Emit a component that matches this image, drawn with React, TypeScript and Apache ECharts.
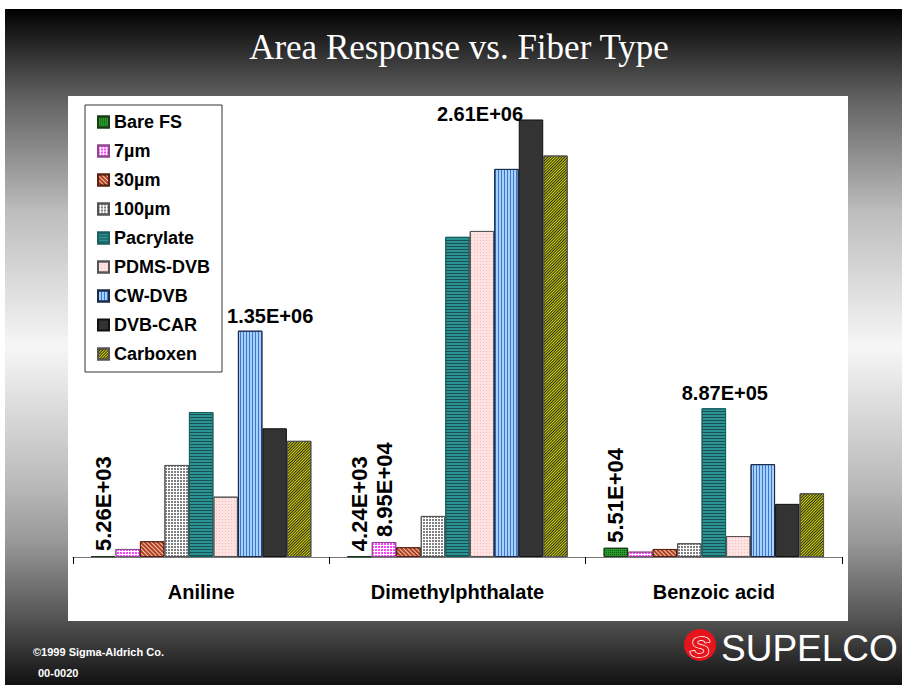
import React, { useEffect, useRef } from 'react';
import * as echarts from 'echarts';

const categories = ['Aniline', 'Dimethylphthalate', 'Benzoic acid'];
const fiberTypes = ['Bare FS', '7µm', '30µm', '100µm', 'Pacrylate', 'PDMS-DVB', 'CW-DVB', 'DVB-CAR', 'Carboxen'];

const bareFS = [5260, 4240, 55100];
const um7 = [48000, 89500, 32000];
const um30 = [94000, 58000, 48000];
const um100 = [549000, 245000, 82000];
const pacrylate = [865000, 1910000, 887000];
const pdmsDvb = [360000, 1945000, 125000];
const cwDvb = [1350000, 2315000, 554000];
const dvbCar = [768000, 2610000, 317000];
const carboxen = [693000, 2395000, 380000];

const seriesValues = [bareFS, um7, um30, um100, pacrylate, pdmsDvb, cwDvb, dvbCar, carboxen];

const FONT = 'Arial, "Liberation Sans", Helvetica, sans-serif';

function fmt(v: number): string {
  const [m, e] = v.toExponential(2).split('e');
  const sign = e[0];
  const digits = e.slice(1).padStart(2, '0');
  return m + 'E' + sign + digits;
}

const vertLabel = {
  show: true,
  position: 'top',
  rotate: 90,
  align: 'left',
  verticalAlign: 'middle',
  distance: 5,
  fontSize: 22,
  fontWeight: 'bold',
  fontFamily: FONT,
  color: '#000',
};
const horizLabel = (dx: number, dy: number) => ({
  show: true,
  position: 'top',
  distance: 5,
  offset: [dx, dy],
  fontSize: 20,
  fontWeight: 'bold',
  fontFamily: FONT,
  color: '#000',
});

// label settings keyed by "series-category"
const labelMap: Record<string, any> = {
  '0-0': vertLabel,
  '0-1': vertLabel,
  '1-1': vertLabel,
  '0-2': vertLabel,
  '6-0': horizLabel(20, 0),
  '7-1': horizLabel(-51, 10),
  '4-2': horizLabel(11, 0),
};

const styles: any[] = [
  { color: '#2a9a2a', borderColor: '#1a3a1a', decal: { symbol: 'rect', symbolSize: 1, color: 'rgba(10,70,10,0.8)', dashArrayX: [1, 1], dashArrayY: [1, 1] } },
  { color: '#ffffff', borderColor: '#8a4a8a', decal: { symbol: 'rect', symbolSize: 1, color: '#ff40ff', dashArrayX: [2, 1], dashArrayY: [2, 1] } },
  { color: '#b4401c', borderColor: '#5a2010', decal: { symbol: 'rect', symbolSize: 1, color: 'rgba(255,255,255,0.7)', dashArrayX: [1, 0], dashArrayY: [1, 2], rotation: Math.PI / 4 } },
  { color: '#ffffff', borderColor: '#555', decal: { symbol: 'rect', symbolSize: 1, color: '#808080', dashArrayX: [2, 1], dashArrayY: [2, 1] } },
  { color: '#2a9494', borderColor: '#1a6060', decal: { symbol: 'rect', symbolSize: 1, color: '#1c4f4f', dashArrayX: [1, 0], dashArrayY: [1, 2] } },
  { color: '#ffe2e2', borderColor: '#555', decal: { symbol: 'rect', symbolSize: 1, color: '#f5bcbc', dashArrayX: [1, 2], dashArrayY: [1, 2] } },
  { color: '#a8d0fa', borderColor: '#1a2a4a', decal: { symbol: 'rect', symbolSize: 1, color: '#3a78d0', dashArrayX: [1, 2], dashArrayY: [1, 0] } },
  { color: '#333333', borderColor: '#111' },
  { color: '#d4d420', borderColor: '#555', decal: { symbol: 'rect', symbolSize: 1, color: '#2a2a00', dashArrayX: [1, 0], dashArrayY: [1, 1], rotation: -Math.PI / 4 } },
];

export default function App() {
  const ref = useRef<HTMLDivElement>(null);
  useEffect(() => {
    const chart = echarts.init(ref.current!, null, { renderer: 'svg' });
    const series = fiberTypes.map((name, si) => ({
      name,
      type: 'bar',
      barGap: '0%',
      barCategoryGap: '14%',
      itemStyle: { ...styles[si], borderWidth: 1 },
      label: { formatter: (p: any) => fmt(p.value) },
      data: seriesValues[si].map((v, ci) => {
        const lab = labelMap[si + '-' + ci];
        return lab ? { value: v, label: { ...lab, formatter: (p: any) => fmt(p.value) } } : { value: v };
      }),
    }));
    const option: any = {
      animation: false,
      graphic: [
        {
          type: 'rect', z: -10, silent: true,
          shape: { x: 5, y: 9, width: 897, height: 676 },
          style: {
            fill: new echarts.graphic.LinearGradient(0, 0, 0, 1, [
              { offset: 0, color: '#000000' },
              { offset: 0.13, color: '#606060' },
              { offset: 0.3, color: '#bdbdbd' },
              { offset: 0.5, color: '#f6f6f6' },
              { offset: 0.7, color: '#bbbbbb' },
              { offset: 0.785, color: '#9a9a9a' },
              { offset: 0.9, color: '#555555' },
              { offset: 1, color: '#111111' },
            ]),
          },
        },
        { type: 'rect', z: -9, silent: true, shape: { x: 68, y: 96, width: 780, height: 525 }, style: { fill: '#ffffff' } },
        {
          type: 'text', z: 5, silent: true, x: 459, y: 47,
          style: { text: 'Area Response vs. Fiber Type', fill: '#fff', font: '35px "Times New Roman", "Liberation Serif", serif', align: 'center', verticalAlign: 'middle' },
        },
        { type: 'text', z: 5, x: 33, y: 652, style: { text: '©1999 Sigma-Aldrich Co.', fill: '#fff', font: 'bold 11px ' + FONT, verticalAlign: 'middle' } },
        { type: 'text', z: 5, x: 38, y: 673, style: { text: '00-0020', fill: '#fff', font: 'bold 11px ' + FONT, verticalAlign: 'middle' } },
        { type: 'circle', z: 5, shape: { cx: 700, cy: 645, r: 16 }, style: { fill: '#e8141c' } },
        { type: 'text', z: 6, x: 700, y: 646, style: { text: 'S', fill: '#e8141c', stroke: '#fff', lineWidth: 1.5, font: 'italic bold 30px ' + FONT, align: 'center', verticalAlign: 'middle' } },
        { type: 'text', z: 5, x: 721, y: 648, style: { text: 'SUPELCO', fill: '#fff', font: '37px ' + FONT, verticalAlign: 'middle' } },
      ],
      legend: {
        orient: 'vertical',
        left: 85,
        top: 105,
        padding: [8, 12, 9, 12],
        itemGap: 11,
        itemWidth: 11,
        itemHeight: 11,
        icon: 'rect',
        backgroundColor: '#fff',
        borderColor: '#333',
        borderWidth: 1,
        borderRadius: 0,
        textStyle: { fontSize: 18, fontWeight: 'bold', fontFamily: FONT, color: '#000', lineHeight: 18 },
        data: fiberTypes,
      },
      grid: { left: 73, right: 60, top: 96, bottom: 128, containLabel: false },
      xAxis: {
        type: 'category',
        data: categories,
        axisLine: { lineStyle: { color: '#777', width: 1 } },
        axisTick: { show: true, inside: false, length: 7, lineStyle: { color: '#000' } },
        axisLabel: { color: '#000', fontSize: 20, fontWeight: 'bold', fontFamily: FONT, margin: 25 },
      },
      yAxis: { type: 'value', show: false, min: 0, max: 2750000, splitLine: { show: false } },
      series,
    };
    chart.setOption(option);
    return () => chart.dispose();
  }, []);
  return <div ref={ref} style={{ position: 'absolute', left: 0, top: 0, width: 902, height: 685 }} />;
}
